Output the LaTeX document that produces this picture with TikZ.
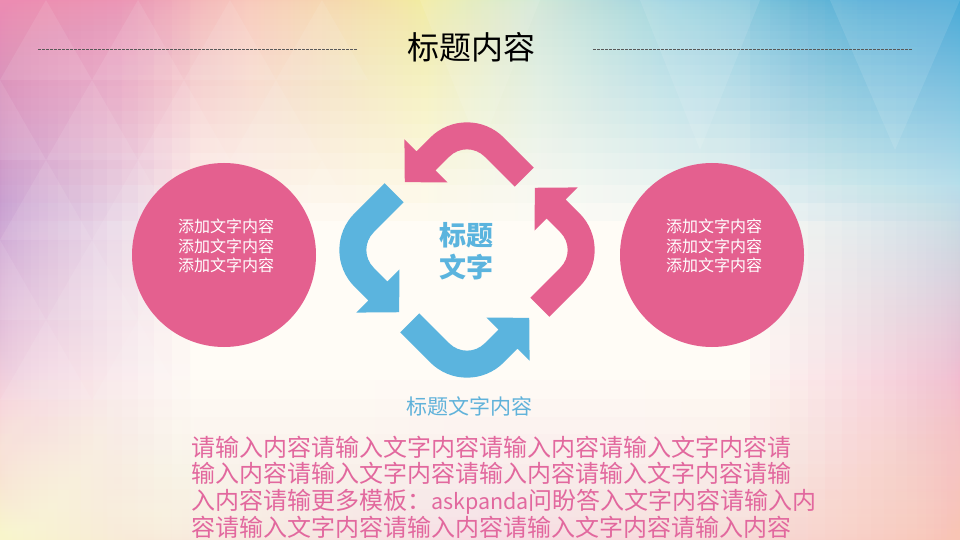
\documentclass[tikz,border=0pt]{standalone}
\usepackage{fontspec}
\setmainfont{Noto Sans CJK SC}

\definecolor{rosered}{RGB}{228,96,143}
\definecolor{skyblue}{RGB}{91,180,222}
\definecolor{bodypink}{RGB}{226,104,158}
\definecolor{capblue}{RGB}{96,178,218}
\definecolor{bgpink}{RGB}{236,140,178}
\definecolor{bgpeach}{RGB}{248,196,180}
\definecolor{bgyellow}{RGB}{242,236,150}
\definecolor{bgmint}{RGB}{205,232,215}
\definecolor{bgcyan}{RGB}{140,208,225}
\definecolor{bgblue}{RGB}{70,170,215}
\definecolor{bglilac}{RGB}{190,140,205}
\definecolor{bgcream}{RGB}{255,252,246}

\pgfdeclarehorizontalshading{topband}{100bp}{color(0bp)=(bgpink); color(25bp)=(bgpink); color(31bp)=(bgpink); color(38bp)=(bgpeach); color(47bp)=(bgyellow); color(53bp)=(bgmint); color(60bp)=(bgcyan); color(70bp)=(bgblue); color(75bp)=(bgblue); color(100bp)=(bgblue)}
\pgfdeclareverticalshading{leftband}{100bp}{color(0bp)=(bgcream); color(25bp)=(bgyellow!40); color(38bp)=(bgpink!45); color(56bp)=(bglilac); color(75bp)=(bgpink); color(100bp)=(bgpink)}
\pgfdeclareverticalshading{rightband}{100bp}{color(0bp)=(bgpeach); color(25bp)=(bgpeach); color(40bp)=(bgpink!70); color(58bp)=(bgcyan!70); color(75bp)=(bgblue); color(100bp)=(bgblue)}
\pgfdeclarehorizontalshading{lowband}{100bp}{color(0bp)=(bgyellow!50); color(25bp)=(bgyellow!50); color(50bp)=(bgpink!45); color(75bp)=(bgpeach); color(100bp)=(bgpeach)}

\tikzset{
  ball/.style={circle, fill=rosered, minimum size=184pt, inner sep=0pt},
  balltxt/.style={text=white, align=center, inner sep=0pt, font=\fontsize{16}{19.3}\selectfont},
  bodytxt/.style={anchor=base west, inner sep=0pt, text=bodypink, font=\fontsize{24}{26}\selectfont},
  rulestroke/.style={black!65, line width=0.6pt, dash pattern=on 2.5pt off 1.5pt},
}

\begin{document}
\begin{tikzpicture}[x=1pt, y=-1pt]
    % background
    \clip (0,0) rectangle (960,540);
    \fill[bgcream] (0,0) rectangle (960,540);
    \foreach \k in {1,...,24}{
        \shade[shading=topband, opacity=0.07] (0,0) rectangle (960,{220*(\k/24)^2});
    };
    \foreach \k in {1,...,20}{
        \shade[shading=leftband, opacity=0.07] (0,0) rectangle ({190*(\k/20)^2},540);
    };
    \foreach \k in {1,...,20}{
        \shade[shading=rightband, opacity=0.07] ({960-210*(\k/20)^2},0) rectangle (960,540);
    };
    \foreach \k in {1,...,16}{
        \shade[shading=lowband, opacity=0.05] (0,{540-160*(\k/16)^2}) rectangle (960,540);
    };
    \foreach \row in {0,...,4}{
        \foreach \col in {0,...,3}{
            \pgfmathsetmacro\xa{92*\col-46*mod(\row,2)}
            \fill[white, opacity=0.09] (\xa,{80*\row+80}) -- ({\xa+92},{80*\row+80}) -- ({\xa+46},{80*\row}) -- cycle;
        };
    };
    \foreach \p/\q/\r in {420/540/480, 640/760/700, 830/960/895}{
        \fill[white, opacity=0.1] (\p,0) -- (\q,0) -- (\r,150) -- cycle;
    };

    % title
    \node[font=\fontsize{32}{36}\selectfont] (title) at (471,47) {标题内容};
    \coordinate (ruleL1) at (38,49);
    \coordinate (ruleL2) at (357,49);
    \coordinate (ruleR1) at (593,49);
    \coordinate (ruleR2) at (912,49);
    \draw[rulestroke] (ruleL1) -- (ruleL2);
    \draw[rulestroke] (ruleR1) -- (ruleR2);

    % side circles
    \node[ball] (leftball) at (224,255) {};
    \node[ball] (rightball) at (712,255) {};
    \node[balltxt] (lefttxt) at (226,246) {添加文字内容\\添加文字内容\\添加文字内容};
    \node[balltxt] (righttxt) at (714,246) {添加文字内容\\添加文字内容\\添加文字内容};

    % cycle arrows
    \coordinate (hub) at (467,250);
    \foreach \ang/\col in {0/rosered, -90/rosered, 180/skyblue, 90/skyblue}{
        \fill[\col, shift={(hub)}, x=1pt, y=1pt, rotate=45+\ang]
            (105.5,11) -- (105.5,53.5) arc[start angle=0, end angle=90, radius=52]
            -- (34,105.5) -- (34,122.5) -- (4,92) -- (34,61.5) -- (34,78.5)
            -- (53.5,78.5) arc[start angle=90, end angle=0, radius=25]
            -- (78.5,11) -- cycle;
    };
    \node[text=skyblue, align=center, font=\bfseries\fontsize{27}{32}\selectfont] (hubtxt) at (466,251) {标题\\文字};
    \node[text=capblue, font=\fontsize{21}{24}\selectfont] (caption) at (469,406) {标题文字内容};

    % body text
    \foreach \txt [count=\i] in {请输入内容请输入文字内容请输入内容请输入文字内容请,
        输入内容请输入文字内容请输入内容请输入文字内容请输,
        入内容请输更多模板：{\fontsize{21.5}{26}\selectfont askpanda}问盼答入文字内容请输入内,
        容请输入文字内容请输入内容请输入文字内容请输入内容}{
        \node[bodytxt] (body\i) at (191,{456+26.7*(\i-1)}) {\txt};
    };
\end{tikzpicture}
\end{document}
